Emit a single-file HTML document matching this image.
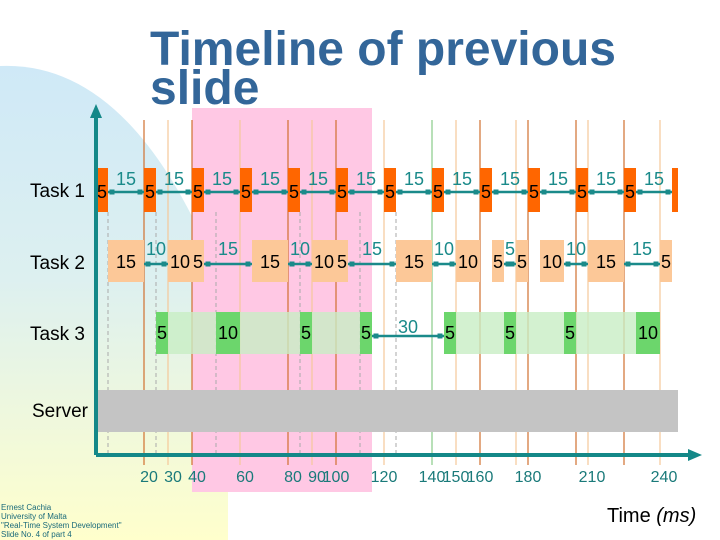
<!DOCTYPE html>
<html><head><meta charset="utf-8"><style>
body{margin:0;width:720px;height:540px;overflow:hidden;background:#fff;font-family:"Liberation Sans",sans-serif}
svg{display:block}
</style></head><body>
<svg width="720" height="540" viewBox="0 0 720 540">
<defs>
<linearGradient id="bg" x1="0" y1="0" x2="0" y2="1">
<stop offset="0" stop-color="#cfe9f7"/><stop offset="0.45" stop-color="#ddf0f0"/><stop offset="1" stop-color="#ffffcc"/>
</linearGradient>
</defs>
<path d="M0,66 Q140,60 228,300 L228,540 L0,540 Z" fill="url(#bg)"/>
<rect x="192" y="108" width="180" height="384" fill="#ffc8e4"/>
<text x="150" y="65" font-size="48" font-weight="bold" fill="#336699" textLength="466" lengthAdjust="spacingAndGlyphs">Timeline of previous</text>
<text x="150" y="104" font-size="48" font-weight="bold" fill="#336699">slide</text>
<g id="g"></g>
<text x="607" y="522" font-size="20" fill="#000">Time <tspan font-style="italic">(ms)</tspan></text>
<g font-size="8" fill="#1a6a7a">
<text x="1" y="510">Ernest Cachia</text><text x="1" y="519">University of Malta</text>
<text x="1" y="528">"Real-Time System Development"</text><text x="1" y="537">Slide No. 4 of part 4</text></g>
</svg>
<script>
const task1Starts=[0,20,40,60,80,100,120,140,160,180,200,220,240];
const task1Len=5;
const task1Gaps=[15,15,15,15,15,15,15,15,15,15,15,15];
const task2Blocks=[[5,20,'15'],[30,40,'10'],[40,45,'5'],[65,80,'15'],[90,100,'10'],[100,105,'5'],[125,140,'15'],[150,160,'10'],[165,170,'5'],[175,180,'5'],[185,195,'10'],[205,220,'15'],[235,240,'5']];
const task2Gaps=[[20,30,'10'],[45,65,'15'],[80,90,'10'],[105,125,'15'],[140,150,'10'],[170,175,'5'],[195,205,'10'],[220,235,'15']];
const task3Blocks=[[25,30,'5'],[50,60,'10'],[85,90,'5'],[110,115,'5'],[145,150,'5'],[170,175,'5'],[195,200,'5'],[225,235,'10']];
const task3Bands=[[25,115],[145,235]];
const task3Gaps=[[115,145,'30']];
const darkLines=[20,40,80,100,160,180,200,220];
const lightLines=[30,60,90,120,150,175,205,235];
const greenLines=[140];
const dashLines=[5,25,50,85,110,125];
const tickLabels=[20,30,40,60,80,90,100,120,140,150,160,180,210,240];
const X=t=>96+t*2.4;
const NS='http://www.w3.org/2000/svg';
const g=document.getElementById('g');
function mk(tag,at,txt){const e=document.createElementNS(NS,tag);for(const k in at)e.setAttribute(k,at[k]);if(txt!==undefined)e.textContent=txt;g.appendChild(e);return e;}
const TEAL='#1a8a8a';
dashLines.forEach(t=>{const e=mk('line',{x1:X(t),x2:X(t),y1:212,y2:455,stroke:'#aaa','stroke-dasharray':'4,3','stroke-width':1});

});
lightLines.forEach(t=>{const e=mk('line',{x1:X(t),x2:X(t),y1:120,y2:465,stroke:'#f5c89a','stroke-width':1.2});

});
greenLines.forEach(t=>{const e=mk('line',{x1:X(t),x2:X(t),y1:120,y2:465,stroke:'#88cc88','stroke-width':1.2});

});
darkLines.forEach(t=>{const e=mk('line',{x1:X(t),x2:X(t),y1:120,y2:465,stroke:'#d07030','stroke-width':1.2});

});
{const e=mk('rect',{x:96,y:390,width:582,height:42,fill:'#c4c4c4'});

}
function gapLine(a,b,y,lab,ly){
 const e=mk('line',{x1:X(a),x2:X(b),y1:y,y2:y,stroke:TEAL,'stroke-width':2.5});
 
 
 [X(a)+4,X(b)-4].forEach(cx=>{const d=mk('rect',{x:cx-2.5,y:y-2.5,width:5,height:5,fill:TEAL});
 
 });
 const t=mk('text',{x:(X(a)+X(b))/2,y:ly,'font-size':18,fill:TEAL,'text-anchor':'middle'},lab);
 
 
}
task1Starts.forEach((s,i)=>{
 const w=i==task1Starts.length-1?2.5:task1Len;
 const r=mk('rect',{x:X(s),y:168,width:X(s+w)-X(s),height:44,fill:'#ff6600'});
 
 
 if(i<task1Starts.length-1){
 const t=mk('text',{x:X(s)+6,y:198,'font-size':18,fill:'#000','text-anchor':'middle'},String(task1Len));
 
 
 gapLine(s+task1Len,s+task1Len+task1Gaps[i],192,String(task1Gaps[i]),185);}
});
task2Blocks.forEach(b=>{
 const r=mk('rect',{x:X(b[0]),y:240,width:X(b[1])-X(b[0]),height:42,fill:'#fcc898'});
 
 
 const t=mk('text',{x:(X(b[0])+X(b[1]))/2,y:268,'font-size':18,fill:'#000','text-anchor':'middle'},b[2]);
 
 
});
task2Gaps.forEach(b=>gapLine(b[0],b[1],264,b[2],255));
task3Bands.forEach(b=>{const r=mk('rect',{x:X(b[0]),y:312,width:X(b[1])-X(b[0]),height:42,fill:'#c8eec4','fill-opacity':0.8});

});
task3Blocks.forEach(b=>{
 const r=mk('rect',{x:X(b[0]),y:312,width:X(b[1])-X(b[0]),height:42,fill:'#6cd66c'});
 
 
 const t=mk('text',{x:(X(b[0])+X(b[1]))/2,y:339,'font-size':18,fill:'#000','text-anchor':'middle'},b[2]);
 
 
});
task3Gaps.forEach(b=>gapLine(b[0],b[1],336,b[2],333));
[['Task 1',197,'task1-label'],['Task 2',269,'task2-label'],['Task 3',340,'task3-label'],['Server',417,'server-label']].forEach(l=>{
 const t=mk('text',{x:l[0]=='Server'?32:30,y:l[1],'font-size':19,fill:'#000'},l[0]);
 
 
});
{const a=mk('path',{d:'M96,455 L96,112 M690,455 L96,455',stroke:'#148888','stroke-width':4,fill:'none'});


const h=mk('path',{d:'M90,118 L96,104 L102,118 Z M688,449 L702,455 L688,461 Z',fill:'#148888'});

}
tickLabels.forEach(v=>{
 const t=mk('text',{x:X(v)+(v<100?5:(v>200?-8:0)),y:482,'font-size':16,fill:'#1a7a7a','text-anchor':'middle'},String(v));
 
 
});
</script>
</body></html>
